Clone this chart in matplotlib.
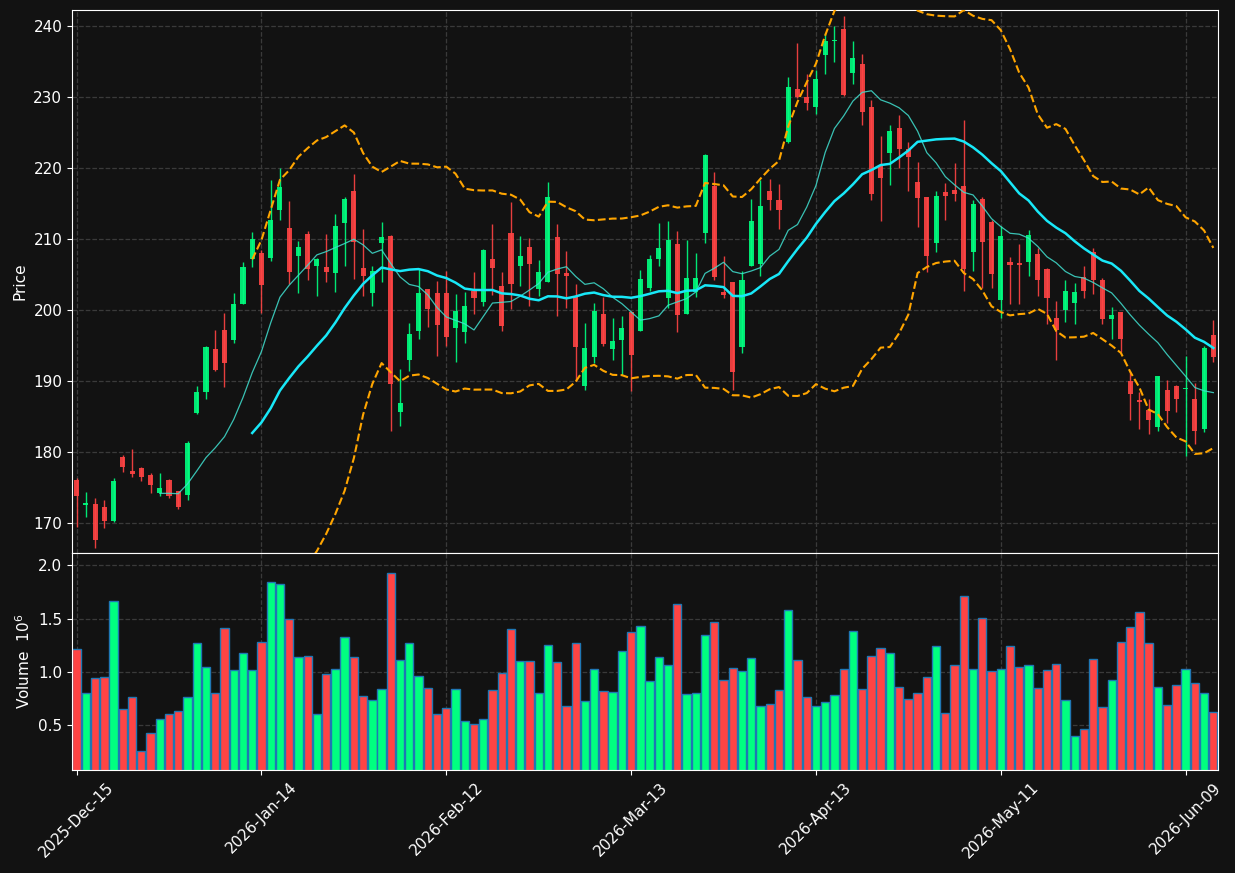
import matplotlib
matplotlib.use("Agg")
import matplotlib.pyplot as plt
import numpy as np
import pandas as pd

# daily OHLC (one entry per trading day)
opens = [176.12, 172.55, 172.75, 172.31, 170.35, 179.35, 177.40, 177.79, 176.81, 174.22,
         176.12, 174.51, 174.02, 185.47, 188.41, 194.58, 197.22, 195.80, 200.94, 207.16,
         208.09, 207.40, 214.06, 211.61, 207.70, 210.78, 206.27, 206.13, 205.30, 212.34,
         216.80, 205.98, 202.36, 209.41, 210.48, 185.62, 192.96, 197.02, 202.99, 202.46,
         202.46, 197.46, 196.88, 202.75, 201.09, 207.25, 203.44, 210.88, 206.27, 208.92,
         203.04, 204.02, 210.34, 205.25, 201.92, 189.34, 193.35, 199.47, 194.58, 195.75,
         199.81, 197.02, 203.14, 207.16, 201.67, 209.36, 199.52, 202.55, 210.93, 217.53,
         202.55, 203.97, 194.82, 206.27, 206.57, 216.80, 215.48, 223.75, 231.19, 230.06,
         228.69, 235.89, 237.90, 239.61, 233.44, 234.71, 228.64, 220.42, 222.09, 225.71,
         222.72, 218.07, 215.97, 209.41, 216.65, 216.95, 217.53, 208.13, 215.67, 212.44,
         201.38, 206.76, 206.62, 206.86, 207.94, 205.83, 198.93, 199.96, 201.04, 204.61,
         208.23, 204.27, 198.83, 199.76, 190.02, 187.38, 186.01, 183.56, 188.80, 189.34,
         188.90, 187.53, 183.32, 196.49]
highs = [176.37, 174.36, 173.53, 173.22, 176.37, 179.55, 180.43, 177.85, 177.05, 177.05,
         176.20, 174.55, 181.56, 189.29, 194.97, 197.22, 199.57, 202.41, 206.76, 211.02,
         208.48, 218.32, 219.98, 215.38, 209.75, 211.17, 207.30, 210.73, 213.52, 215.97,
         219.20, 211.41, 206.18, 212.44, 210.55, 191.74, 198.15, 205.74, 203.05, 204.12,
         205.49, 202.26, 202.50, 205.34, 208.62, 212.10, 205.34, 215.28, 210.43, 210.24,
         207.06, 218.07, 212.10, 208.33, 203.63, 198.15, 201.04, 201.87, 198.93, 199.23,
         199.85, 205.69, 207.79, 212.29, 212.59, 211.17, 209.85, 208.04, 222.04, 219.44,
         207.65, 204.00, 205.49, 215.72, 218.41, 218.46, 217.78, 232.85, 237.60, 233.34,
         233.88, 239.07, 240.05, 241.42, 237.90, 236.08, 229.62, 224.53, 226.10, 227.47,
         223.70, 220.91, 216.00, 216.75, 217.87, 220.76, 226.78, 215.48, 215.92, 212.74,
         211.81, 207.45, 209.26, 211.27, 208.72, 205.98, 201.28, 204.27, 203.78, 206.18,
         208.72, 204.56, 200.45, 199.80, 191.40, 188.46, 187.48, 190.80, 190.12, 189.40,
         193.55, 189.68, 194.97, 198.59]
lows = [169.52, 170.84, 166.43, 169.29, 170.20, 177.15, 176.47, 175.88, 174.22, 173.87,
        173.48, 172.06, 173.28, 185.40, 187.48, 191.49, 189.14, 195.31, 200.90, 206.08,
        199.62, 206.96, 212.69, 203.63, 202.41, 204.22, 202.02, 203.97, 202.56, 206.18,
        204.46, 202.02, 200.65, 203.97, 182.98, 183.66, 191.40, 195.90, 197.66, 193.50,
        194.92, 192.72, 195.31, 199.42, 200.60, 202.16, 197.02, 200.11, 203.39, 200.60,
        202.02, 204.00, 199.13, 200.35, 190.02, 188.70, 192.62, 195.02, 192.96, 190.90,
        188.60, 197.00, 202.75, 206.18, 200.30, 196.93, 199.50, 201.92, 209.46, 204.22,
        201.67, 188.70, 193.94, 206.25, 204.86, 214.06, 211.37, 223.55, 229.95, 228.15,
        227.71, 233.25, 234.96, 230.16, 231.92, 226.15, 215.57, 212.54, 217.58, 220.03,
        216.75, 211.71, 205.34, 208.18, 212.69, 215.38, 202.75, 205.59, 203.14, 203.14,
        198.88, 200.84, 200.84, 204.81, 201.97, 198.00, 192.96, 198.39, 198.10, 201.67,
        202.26, 198.10, 195.95, 194.09, 184.50, 183.32, 182.49, 182.93, 184.15, 185.67,
        179.41, 181.21, 182.83, 192.77]
closes = [173.77, 172.80, 167.56, 170.25, 175.95, 177.84, 176.96, 176.57, 175.34, 174.95,
          173.77, 172.31, 181.31, 188.51, 194.82, 191.64, 192.62, 200.89, 206.13, 210.04,
          203.49, 212.74, 217.39, 205.44, 208.87, 205.74, 207.25, 205.44, 211.90, 215.67,
          209.60, 204.76, 205.49, 210.29, 189.54, 186.94, 196.68, 202.46, 200.20, 197.86,
          196.29, 199.91, 200.60, 201.67, 208.53, 205.88, 197.71, 203.63, 207.65, 206.57,
          205.34, 215.97, 205.10, 204.86, 194.87, 194.72, 199.91, 195.21, 195.70, 197.51,
          193.70, 204.41, 207.25, 208.72, 209.90, 199.37, 204.56, 204.56, 221.89, 204.71,
          202.16, 191.25, 204.27, 212.59, 214.64, 215.57, 214.06, 231.43, 229.97, 229.23,
          232.56, 237.94, 238.00, 230.31, 235.55, 227.86, 216.31, 218.66, 225.27, 222.72,
          221.64, 215.87, 207.70, 216.11, 216.02, 216.31, 205.74, 214.99, 209.55, 205.05,
          210.48, 206.42, 206.42, 210.58, 204.32, 201.67, 197.27, 202.75, 202.55, 202.75,
          204.32, 198.83, 199.32, 195.90, 188.21, 187.09, 184.54, 190.76, 185.86, 187.43,
          189.00, 182.93, 194.72, 193.35]
# volume in millions of shares
volumes = [1.213, 0.800, 0.941, 0.953, 1.663, 0.650, 0.763, 0.259, 0.428, 0.556,
           0.606, 0.631, 0.763, 1.269, 1.044, 0.800, 1.409, 1.016, 1.175, 1.016,
           1.278, 1.841, 1.822, 1.494, 1.138, 1.147, 0.603, 0.978, 1.025, 1.325,
           1.138, 0.772, 0.734, 0.838, 1.925, 1.109, 1.269, 0.959, 0.847, 0.603,
           0.659, 0.838, 0.538, 0.509, 0.556, 0.828, 0.988, 1.400, 1.100, 1.100,
           0.800, 1.250, 1.090, 0.678, 1.269, 0.725, 1.025, 0.819, 0.809, 1.194,
           1.372, 1.428, 0.913, 1.138, 1.063, 1.634, 0.791, 0.800, 1.344, 1.466,
           0.922, 1.034, 1.006, 1.128, 0.678, 0.697, 0.828, 1.578, 1.109, 0.763,
           0.678, 0.716, 0.781, 1.025, 1.381, 0.838, 1.147, 1.222, 1.175, 0.856,
           0.744, 0.800, 0.950, 1.241, 0.613, 1.063, 1.709, 1.025, 1.503, 1.006,
           1.025, 1.241, 1.044, 1.063, 0.847, 1.016, 1.072, 0.734, 0.397, 0.463,
           1.119, 0.669, 0.922, 1.278, 1.419, 1.559, 1.269, 0.856, 0.688, 0.875,
           1.025, 0.894, 0.800, 0.622]
tick_labels = ["2025-Dec-15", "2026-Jan-14", "2026-Feb-12", "2026-Mar-13",
               "2026-Apr-13", "2026-May-11", "2026-Jun-09"]

BG = "#121212"
UP = "#00ff80"
DOWN = "#ff4444"
TXT = "white"

o = np.array(opens)
h = np.array(highs)
l = np.array(lows)
c = np.array(closes)
v = np.array(volumes)
x = np.arange(len(c))
up = c >= o
colors = np.where(up, UP, DOWN)

close_s = pd.Series(c)
sma10 = close_s.rolling(10).mean()
sma20 = close_s.rolling(20).mean()
std20 = close_s.rolling(20).std(ddof=0)
bb_upper = sma20 + 2 * std20
bb_lower = sma20 - 2 * std20

fig = plt.figure(figsize=(12.35, 8.73), dpi=100, facecolor=BG)
ax = fig.add_axes([0.0583, 0.3666, 0.9279, 0.6220], facecolor=BG)
axv = fig.add_axes([0.0583, 0.1180, 0.9279, 0.2486], facecolor=BG, sharex=ax)

for a in (ax, axv):
    a.grid(True, linestyle="--", color="#3a3a3a", linewidth=0.9)
    a.set_axisbelow(True)
    for sp in a.spines.values():
        sp.set_color("white")
    a.tick_params(colors=TXT, labelsize=11)

# candles
ax.vlines(x, l, h, colors=colors, linewidth=1.0, alpha=0.9, zorder=2)
body_lo = np.minimum(o, c)
body_h = np.maximum(np.abs(c - o), 0.15)
ax.bar(x, body_h, bottom=body_lo, width=0.55, color=colors, alpha=0.9,
       linewidth=0, zorder=3)

ax.plot(x, sma10, color="#40e0d0", linewidth=0.9, alpha=0.85, zorder=4)
ax.plot(x, sma20, color="#18e8f8", linewidth=1.8, zorder=4)
ax.plot(x, bb_upper, color="orange", linewidth=1.5, linestyle="--", zorder=4)
ax.plot(x, bb_lower, color="orange", linewidth=1.5, linestyle="--", zorder=4)

ax.set_ylim(165.8, 242.3)
ax.set_yticks(np.arange(170, 241, 10))
ax.set_ylabel("Price", color=TXT, fontsize=11)
ax.tick_params(axis="x", labelbottom=False)

# volume
axv.bar(x, v, width=0.9, color=colors, edgecolor="#1f77b4", linewidth=1.0, zorder=2)
axv.set_ylim(0.3 * v.min(), 1.1 * v.max())
axv.set_yticks([0.5, 1.0, 1.5, 2.0])
axv.set_ylabel("Volume  $10^{6}$", color=TXT, fontsize=11)

axv.set_xlim(-0.5, len(c) - 0.5)
axv.set_xticks(x[::20])
axv.set_xticklabels(tick_labels, rotation=45, ha="center")

fig.savefig("out.png", dpi=100, facecolor=BG)
